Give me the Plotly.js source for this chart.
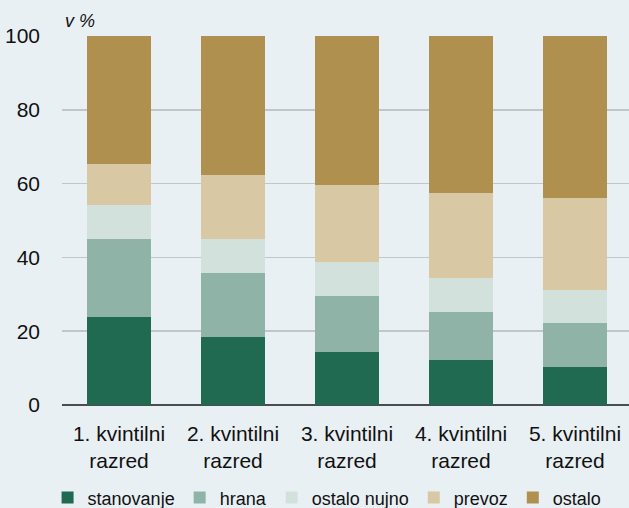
<!DOCTYPE html>
<html>
<head>
<meta charset="utf-8">
<script src="https://cdn.plot.ly/plotly-3.0.1.min.js"></script>
<style>
html,body{margin:0;padding:0;background:#e9f0f4;overflow:hidden;}
#chart{width:629px;height:508px;}
</style>
</head>
<body>
<div id="chart"></div>
<script>
const categories = ["1. kvintilni<br>razred", "2. kvintilni<br>razred", "3. kvintilni<br>razred", "4. kvintilni<br>razred", "5. kvintilni<br>razred"];
const stanovanje = [23.8, 18.4, 14.5, 12.1, 10.3];
const hrana = [21.3, 17.5, 15.0, 13.2, 11.9];
const ostaloNujno = [9.2, 9.1, 9.3, 9.1, 8.9];
const prevoz = [11.1, 17.2, 20.9, 23.1, 25.1];
const ostalo = [34.6, 37.8, 40.3, 42.5, 43.8];
const seriesNames = ["stanovanje", "hrana", "ostalo nujno", "prevoz", "ostalo"];
const tickVals = [0, 20, 40, 60, 80, 100];

const colors = ["#1f6a50", "#8fb3a6", "#d3e1dd", "#d8c8a4", "#af904f"];
const seriesValues = [stanovanje, hrana, ostaloNujno, prevoz, ostalo];
const FONT = "'Liberation Sans', Arial, sans-serif";

const data = seriesValues.map((vals, i) => ({
  type: "bar",
  name: seriesNames[i],
  x: categories,
  y: vals,
  marker: {color: colors[i], line: {width: 0}},
  hoverinfo: "skip"
}));

const layout = {
  width: 629,
  height: 508,
  barmode: "stack",
  bargap: 0.44,
  paper_bgcolor: "#e9f0f4",
  plot_bgcolor: "#e9f0f4",
  margin: {l: 62, r: 0, t: 35.5, b: 102.5, pad: 0},
  font: {family: FONT, size: 20, color: "#111111"},
  showlegend: true,
  legend: {
    orientation: "h",
    xref: "container", yref: "container",
    x: 0.52, xanchor: "center",
    y: 0.02, yanchor: "middle",
    font: {family: FONT, size: 18, color: "#111111"},
    bgcolor: "rgba(0,0,0,0)",
    traceorder: "normal",
    itemclick: false
  },
  xaxis: {
    type: "category",
    range: [-0.5, 4.474],
    showgrid: false,
    zeroline: false,
    showline: false,
    ticks: "",
    tickfont: {family: FONT, size: 21, color: "#111111"},
    ticklabelstandoff: 14,
    fixedrange: true
  },
  yaxis: {
    range: [0, 100],
    tickvals: tickVals,
    ticktext: tickVals.map(String),
    showgrid: true,
    gridcolor: "#c3c6c8",
    gridwidth: 1.5,
    zeroline: true,
    zerolinecolor: "#4a4d50",
    zerolinewidth: 2,
    showline: false,
    ticks: "",
    tickfont: {family: FONT, size: 21, color: "#111111"},
    ticklabelstandoff: 21,
    fixedrange: true
  },
  annotations: [{
    text: "<i>v %</i>",
    xref: "paper", yref: "paper",
    x: 0, y: 1,
    xanchor: "left", yanchor: "bottom",
    xshift: 1, yshift: 3,
    showarrow: false,
    font: {family: FONT, size: 18, color: "#111111"}
  }]
};

Plotly.newPlot("chart", data, layout, {displayModeBar: false, staticPlot: true});
</script>
</body>
</html>
